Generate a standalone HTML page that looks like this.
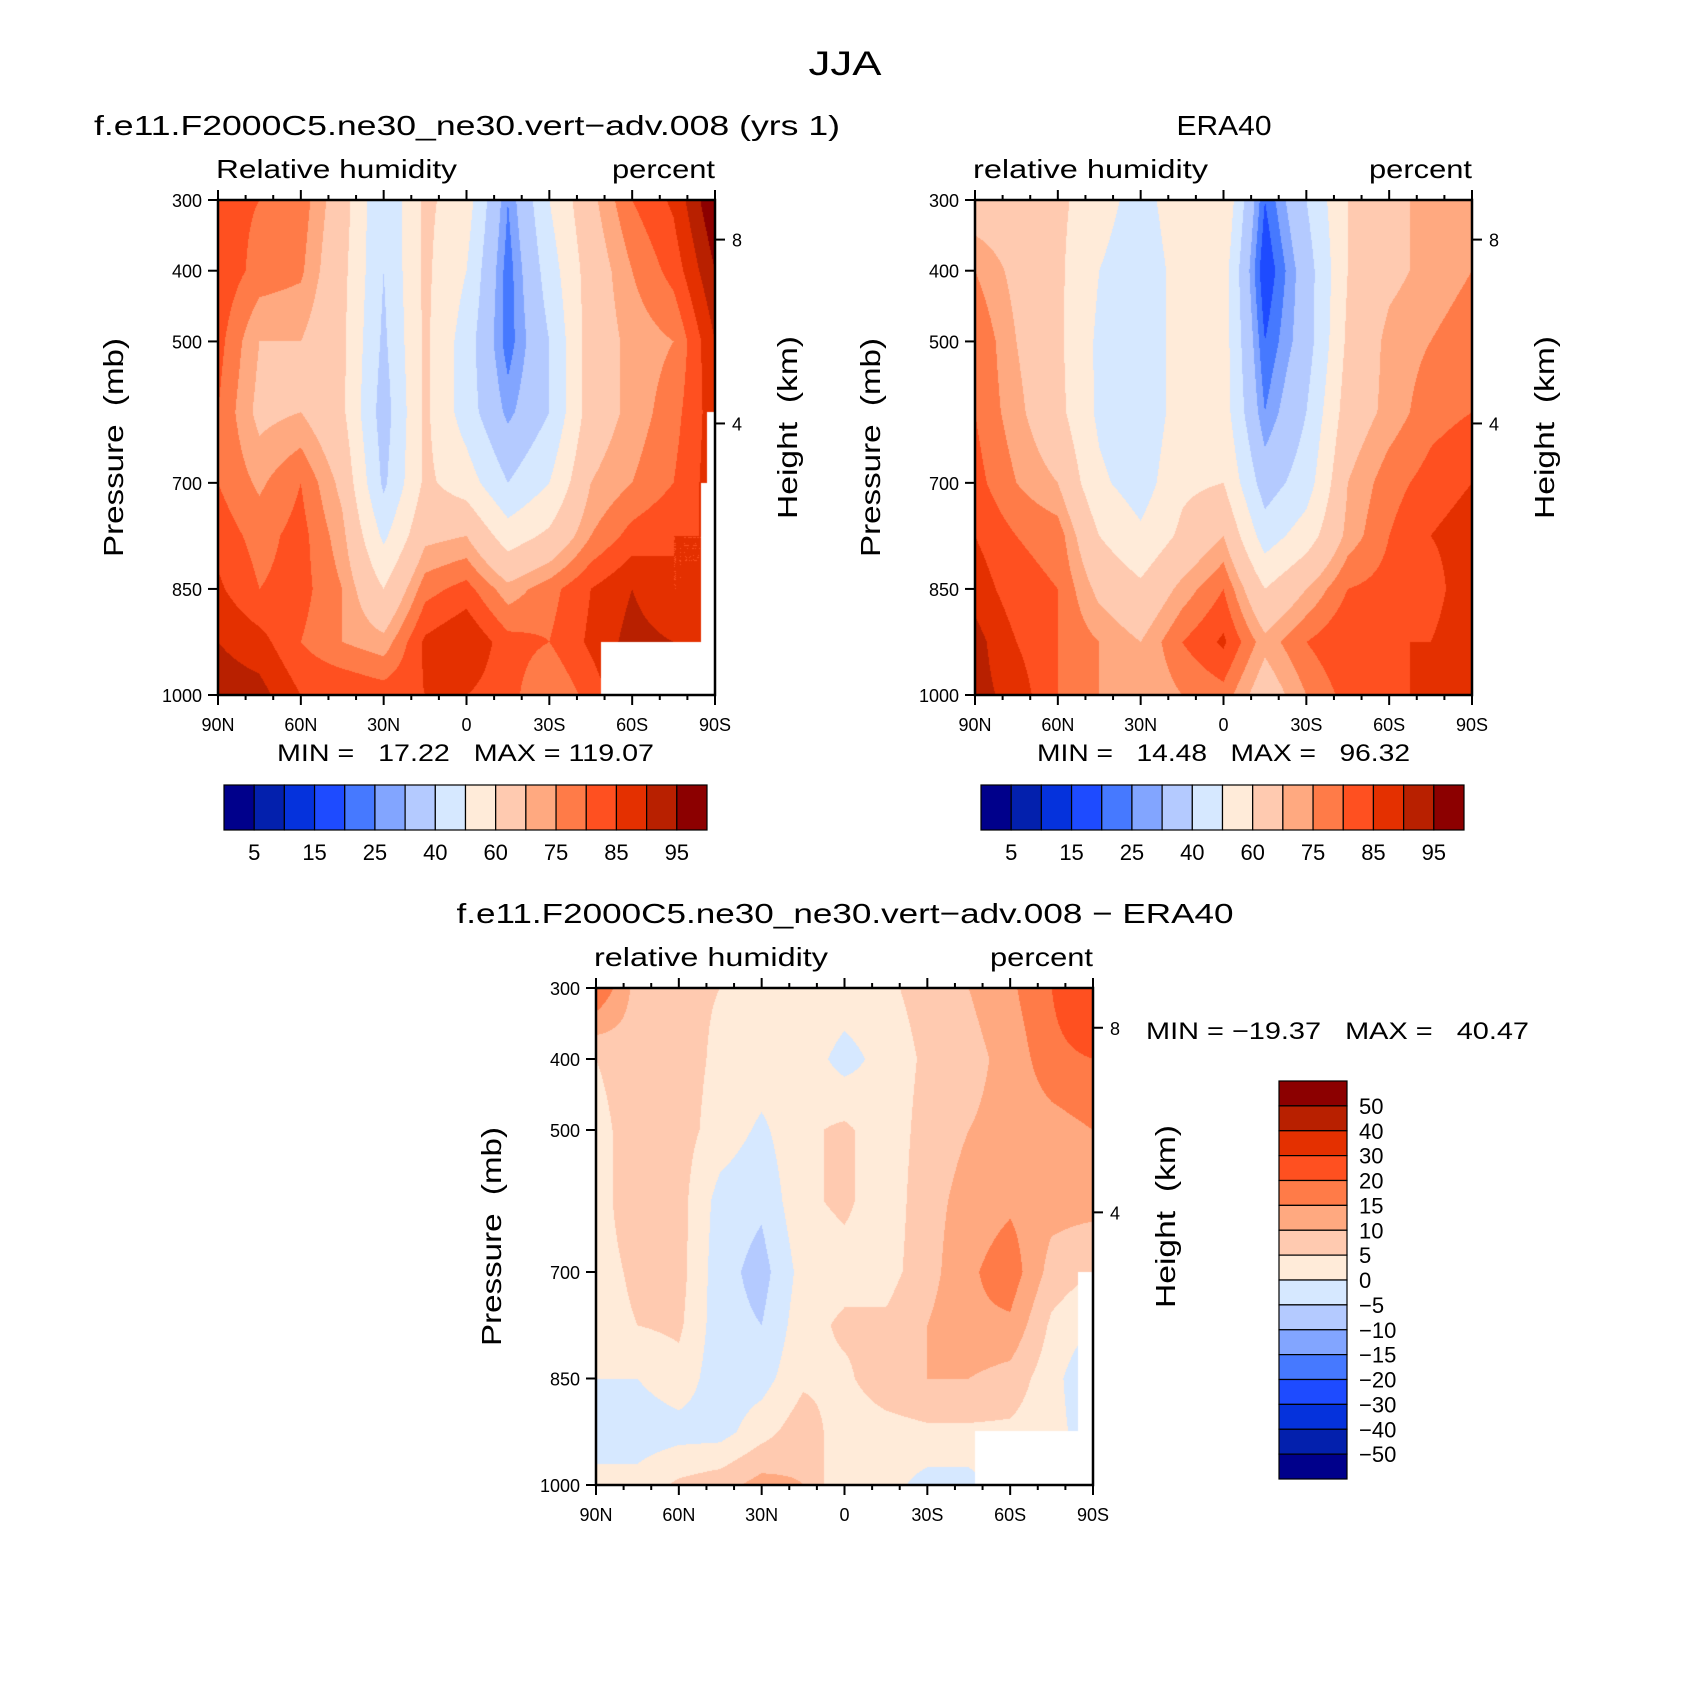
<!DOCTYPE html>
<html><head><meta charset="utf-8"><style>
html,body{margin:0;padding:0;background:#fff;}
#wrap{position:relative;width:1691px;height:1688px;overflow:hidden;background:#fff;}
canvas{position:absolute;}
svg{position:absolute;left:0;top:0;}
text{font-family:"Liberation Sans",sans-serif;fill:#000;white-space:pre;}
</style></head><body>
<div id="wrap">
<canvas id="c1"></canvas>
<canvas id="c2"></canvas>
<canvas id="c3"></canvas>
<svg id="s" width="1691" height="1688"></svg>
</div>
<script>
const lats=[90,75,60,45,30,15,0,-15,-30,-45,-60,-75,-90];
const plevs=[300,400,500,600,700,775,850,925,1000];
// values per latitude column, ordered by pressure level (300..1000)
const modelRH=[
[82,84,82,80,80,83,86,90,93],
[80,78,70,68,74,78,80,87,92],
[78,76,70,70,80,82,82,80,85],
[65,63,62,62,68,72,75,75,85],
[40,40,38,35,38,48,60,72,83],
[62,62,62,62,62,68,78,86,85],
[55,50,45,45,55,70,82,90,85],
[25,22,22,28,40,55,72,82,82],
[50,45,40,40,50,62,78,80,75],
[68,65,65,65,70,75,85,86,82],
[80,75,72,72,75,82,90,92,90],
[86,82,75,78,80,85,85,90,88],
[100,95,90,88,88,85,85,85,85]];
const eraRH=[
[65,75,80,80,82,85,88,92,92],
[65,68,70,72,75,80,82,85,88],
[62,62,62,63,70,78,80,80,80],
[55,50,48,48,52,60,68,75,75],
[45,42,42,42,45,52,62,70,70],
[58,55,55,55,58,62,72,80,75],
[60,55,55,55,60,70,80,86,78],
[20,15,20,25,35,45,60,72,65],
[40,35,35,40,45,55,70,80,75],
[60,60,62,65,70,72,80,85,82],
[68,68,72,72,78,80,82,85,82],
[72,72,75,78,82,85,82,85,88],
[75,75,78,80,85,88,90,90,88]];
const diffRH=[
[20,5,3,3,3,3,0,-3,2],
[8,8,8,8,6,5,0,-3,2],
[6,7,7,7,7,6,3,-2,6],
[5,4,3,-2,-3,-3,-3,-2,8],
[3,3,-1,-4,-7,-5,-2,3,12],
[5,3,4,4,2,3,4,8,10],
[3,-2,6,6,3,6,4,2,0],
[4,2,2,2,3,6,8,3,2],
[7,6,7,8,8,10,10,4,-2],
[10,8,10,12,14,14,10,4,-2],
[14,12,12,14,18,14,8,4,3],
[20,18,13,12,8,4,2,2,2],
[30,20,15,12,5,0,-5,-3,0]];
const rhLevels=[5,10,15,20,25,30,40,50,60,70,75,80,85,90,95];
const rhLabels=["5","15","25","40","60","75","85","95"];
const diffLevels=[-50,-40,-30,-20,-15,-10,-5,0,5,10,15,20,30,40,50];
const diffLabels=["50","40","30","20","15","10","5","0","\u22125","\u221210","\u221215","\u221220","\u221230","\u221240","\u221250"];
const colors=["#00008b","#0320ad","#0532dc","#1e4bff","#4679ff","#82a5ff","#b4caff","#d6e8ff","#ffebd9","#ffcab0","#ffa980","#ff7b48","#ff5020","#e43000","#b82000","#8c0000"];
const pTicks=[300,400,500,700,850,1000];
const latTicks=[90,60,30,0,-30,-60,-90];
const latLabels=["90N","60N","30N","0","30S","60S","90S"];
const hTicks=[{p:356,l:"8"},{p:616,l:"4"}];

const S=document.getElementById('s');const NS="http://www.w3.org/2000/svg";
function el(tag,attrs,txt,name,parent){const e=document.createElementNS(NS,tag);for(const k in attrs)e.setAttribute(k,attrs[k]);


if(txt!==undefined)e.textContent=txt;(parent||S).appendChild(e);return e;}
function fit(a,len){a.textLength=len;a.lengthAdjust='spacingAndGlyphs';return a;}
function hexRGB(h){return [parseInt(h.substr(1,2),16),parseInt(h.substr(3,2),16),parseInt(h.substr(5,2),16)];}
const rgb=colors.map(hexRGB);
function val(data,lat,p){
  let fi=(90-lat)/15; let i0=Math.min(11,Math.floor(fi)); let tx=fi-i0;
  let j0=0; while(j0<plevs.length-2 && p>plevs[j0+1]) j0++;
  let ty=(p-plevs[j0])/(plevs[j0+1]-plevs[j0]);
  const a=data[i0][j0],b=data[i0+1][j0],c=data[i0][j0+1],d=data[i0+1][j0+1];
  return a*(1-tx)*(1-ty)+b*tx*(1-ty)+c*(1-tx)*ty+d*tx*ty;
}
function lvl(v,levels){let k=0;while(k<levels.length&&v>=levels[k])k++;return k;}
function plot(id,data,levels,X,Y,W,H,mask,cfg){
  const xs=lat=>X+(90-lat)/180*W, ys=p=>Y+(p-300)/700*H;
  const cv=document.getElementById(id);cv.width=W;cv.height=H;cv.style.left=X+'px';cv.style.top=Y+'px';
  const ctx=cv.getContext('2d');const img=ctx.createImageData(W,H);
  for(let y=0;y<H;y++){const p=300+(y+0.5)/H*700;
    for(let x=0;x<W;x++){const lat=90-(x+0.5)/W*180;let c;
      if(mask(lat,p)) c=[255,255,255]; else c=rgb[lvl(val(data,lat,p),levels)];
      const o=(y*W+x)*4;img.data[o]=c[0];img.data[o+1]=c[1];img.data[o+2]=c[2];img.data[o+3]=255;}}
  ctx.putImageData(img,0,0);
  const g=el('g',{},undefined,cfg.name+'-axes');
  el('rect',{x:X,y:Y,width:W,height:H,fill:'none',stroke:'#000','stroke-width':2.5},undefined,'plot-frame',g);
  for(let l=90;l>=-90;l-=10){const major=l%30===0;const len=major?10:5;const x=xs(l);
    el('line',{x1:x,y1:Y+H,x2:x,y2:Y+H+len,stroke:'#000','stroke-width':2},undefined,'x-tick',g);
    el('line',{x1:x,y1:Y,x2:x,y2:Y-len,stroke:'#000','stroke-width':2},undefined,'x-tick-top',g);}
  latTicks.forEach((l,i)=>{el('text',{x:xs(l),y:Y+H+36,'text-anchor':'middle','font-size':18},latLabels[i],'x-tick-label',g);});
  pTicks.forEach(p=>{el('line',{x1:X-10,y1:ys(p),x2:X,y2:ys(p),stroke:'#000','stroke-width':2},undefined,'y-tick',g);
    el('text',{x:X-16,y:ys(p)+7,'text-anchor':'end','font-size':18},String(p),'y-tick-label',g);});
  hTicks.forEach(h=>{el('line',{x1:X+W,y1:ys(h.p),x2:X+W+10,y2:ys(h.p),stroke:'#000','stroke-width':2},undefined,'height-tick',g);
    el('text',{x:X+W+17,y:ys(h.p)+7,'font-size':18},h.l,'height-tick-label',g);});
  el('text',fit({x:X-95,y:Y+H/2,'text-anchor':'middle','font-size':28,transform:`rotate(-90 ${X-95} ${Y+H/2})`},219),'Pressure  (mb)','y-axis-title',g);
  el('text',fit({x:X+W+82,y:Y+H/2-20,'text-anchor':'middle','font-size':28,transform:`rotate(-90 ${X+W+82} ${Y+H/2-20})`},183),'Height  (km)','height-axis-title',g);
  el('text',fit({x:X-2,y:Y-22,'font-size':26},cfg.llen),cfg.left,'variable-label',g);
  el('text',fit({x:X+W,y:Y-22,'text-anchor':'end','font-size':26},103),'percent','units-label',g);
  el('text',fit({x:cfg.tx,y:Y-65,'text-anchor':'middle','font-size':28},cfg.tlen),cfg.title,'plot-title',g);
}
function hbar(X,Y,W,H){const n=colors.length,bw=W/n;const g=el('g',{},undefined,'colorbar');
  colors.forEach((c,i)=>el('rect',{x:X+i*bw,y:Y,width:bw,height:H,fill:c,stroke:'#000','stroke-width':1.2},undefined,'colorbar-box',g));
  rhLabels.forEach((t,i)=>el('text',{x:X+(2*i+1)*bw,y:Y+H+30,'text-anchor':'middle','font-size':22},t,'colorbar-label',g));}
const m1=(lat,p)=>(lat<-48.6&&p>925)||(lat<-87&&p>600)||(lat<-85&&p>700);
const m3=(lat,p)=>(lat<-47.4&&p>924)||(lat<-84.5&&p>700);
plot('c1',modelRH,rhLevels,218,200,497,495,m1,{name:'model',left:'Relative humidity',llen:241,title:'f.e11.F2000C5.ne30_ne30.vert\u2212adv.008 (yrs 1)',tx:467,tlen:746});
plot('c2',eraRH,rhLevels,975,200,497,495,()=>false,{name:'era40',left:'relative humidity',llen:235,title:'ERA40',tx:1224,tlen:95});
plot('c3',diffRH,diffLevels,596,988,497,497,m3,{name:'diff',left:'relative humidity',llen:234,title:'f.e11.F2000C5.ne30_ne30.vert\u2212adv.008 \u2212 ERA40',tx:845,tlen:777});
el('text',fit({x:845,y:75,'text-anchor':'middle','font-size':34},73),'JJA','main-title');
el('text',fit({x:277,y:761,'font-size':24},377),'MIN =   17.22   MAX = 119.07','model-min-max');
el('text',fit({x:1037,y:761,'font-size':24},373),'MIN =   14.48   MAX =   96.32','era40-min-max');
el('text',fit({x:1146,y:1039,'font-size':24},383),'MIN = \u221219.37   MAX =   40.47','diff-min-max');
hbar(224,785,483,45);hbar(981,785,483,45);
(function(){const X=1279,Y=1081,W=68,H=398,n=colors.length,bh=H/n;const g=el('g',{},undefined,'diff-colorbar');
  for(let i=0;i<n;i++){el('rect',{x:X,y:Y+i*bh,width:W,height:bh,fill:colors[n-1-i],stroke:'#000','stroke-width':1.2},undefined,'colorbar-box',g);}
  diffLabels.forEach((t,i)=>el('text',{x:X+W+12,y:Y+(i+1)*bh+8,'font-size':22},t,'colorbar-label',g));})();
</script>
</body></html>
